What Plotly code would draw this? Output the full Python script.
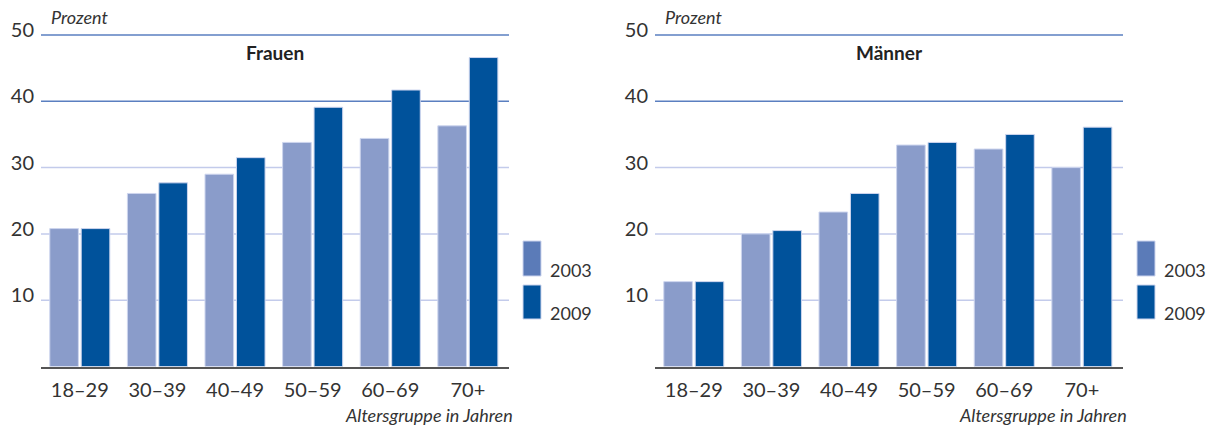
import plotly.graph_objects as go

# Altersgruppen und Anteile (Prozent)
age_groups = ["18–29", "30–39", "40–49", "50–59", "60–69", "70+"]
years = ["2003", "2009"]
frauen_2003 = [20.8, 26.1, 29.0, 33.8, 34.4, 36.3]
frauen_2009 = [20.8, 27.7, 31.5, 39.1, 41.7, 46.6]
maenner_2003 = [12.8, 20.0, 23.3, 33.4, 32.8, 30.0]
maenner_2009 = [12.8, 20.5, 26.1, 33.8, 35.0, 36.1]
y_ticks = [10, 20, 30, 40, 50]

LIGHT = "#8a9cca"
DARK = "#00529b"
LEGEND_LIGHT = "#5b7bb8"
EDGE = "#cdd5ee"
GRID_DARK = "#5a7fc0"
GRID_LIGHT = "#c3cbeb"
TEXT = "#333333"
FONT = "Lato"

W, H = 1215, 429
panels = [
    dict(title="Frauen", v03=frauen_2003, v09=frauen_2009, x0=41, x1=509, xa="x", ya="y"),
    dict(title="Männer", v03=maenner_2003, v09=maenner_2009, x0=655, x1=1123, xa="x2", ya="y2"),
]
# vertical placement: value 0 at 366.5 px, 6.63 px per percentage point
Y_MAX = 50.3
y_bottom_px = 366.5
y_top_px = y_bottom_px - Y_MAX * 6.63

fig = go.Figure()
shapes = []
annotations = []

for i, p in enumerate(panels):
    for vals, col in ((p["v03"], LIGHT), (p["v09"], DARK)):
        fig.add_trace(go.Bar(
            x=age_groups, y=vals, xaxis=p["xa"], yaxis=p["ya"],
            marker=dict(color=col, line=dict(color=EDGE, width=1)),
            showlegend=False, hoverinfo="x+y",
        ))
    # horizontal grid lines
    for t in y_ticks:
        shapes.append(dict(
            type="line", xref=f"{p['xa']} domain", yref=p["ya"],
            x0=0, x1=1, y0=t, y1=t, layer="below",
            line=dict(color=GRID_DARK if t >= 40 else GRID_LIGHT, width=1.5),
        ))
    cx = (p["x0"] + p["x1"]) / 2 / W
    annotations.append(dict(
        text="<b>" + p["title"] + "</b>", x=cx, y=1 - 52 / H, xref="paper", yref="paper",
        showarrow=False, xanchor="center", yanchor="middle",
        font=dict(family=FONT, size=19, color="#222222"),
    ))
    annotations.append(dict(
        text="<i>Prozent</i>", x=(p["x0"] + 8) / W, y=1 - 17 / H, xref="paper", yref="paper",
        showarrow=False, xanchor="left", yanchor="middle",
        font=dict(family=FONT, size=18, color=TEXT),
    ))
    annotations.append(dict(
        text="<i>Altersgruppe in Jahren</i>", x=(p["x1"] + 6) / W, y=1 - 415 / H,
        xref="paper", yref="paper", showarrow=False, xanchor="right", yanchor="middle",
        font=dict(family=FONT, size=18, color=TEXT),
    ))
    # legend swatches and labels
    lx0 = p["x1"] + 14
    for (yr, col, top, bot) in ((years[0], LEGEND_LIGHT, 241, 276), (years[1], DARK, 285, 319)):
        shapes.append(dict(
            type="rect", xref="paper", yref="paper",
            x0=lx0 / W, x1=(lx0 + 18) / W, y0=1 - bot / H, y1=1 - top / H,
            fillcolor=col, line=dict(color=EDGE, width=1),
        ))
        annotations.append(dict(
            text=yr, x=(lx0 + 25) / W, y=1 - (bot - 6) / H, xref="paper", yref="paper",
            showarrow=False, xanchor="left", yanchor="middle",
            font=dict(family=FONT, size=18, color=TEXT),
        ))

ydom = [1 - y_bottom_px / H, 1 - y_top_px / H]
axis_common_x = dict(
    type="category", range=[-0.5, 5.53], showgrid=False, zeroline=False,
    showline=True, linecolor="#555555", linewidth=1.5, ticks="", automargin=False,
    tickfont=dict(family=FONT, size=20, color=TEXT), ticklabelstandoff=5,
)
axis_common_y = dict(
    range=[0, Y_MAX], domain=ydom, showgrid=False, zeroline=False, showline=False,
    tickvals=y_ticks, ticks="", tickfont=dict(family=FONT, size=20, color=TEXT),
    ticklabelshift=-5, ticklabelstandoff=6, automargin=False,
)

fig.update_layout(
    width=W, height=H,
    margin=dict(l=0, r=0, t=0, b=0),
    paper_bgcolor="white", plot_bgcolor="white",
    barmode="group", bargap=0.19, bargroupgap=0.09,
    xaxis=dict(domain=[41 / W, 509 / W], anchor="y", **axis_common_x),
    xaxis2=dict(domain=[655 / W, 1123 / W], anchor="y2", **axis_common_x),
    yaxis=dict(anchor="x", **axis_common_y),
    yaxis2=dict(anchor="x2", **axis_common_y),
    shapes=shapes, annotations=annotations,
    showlegend=False,
)

fig.write_html("out.html")
